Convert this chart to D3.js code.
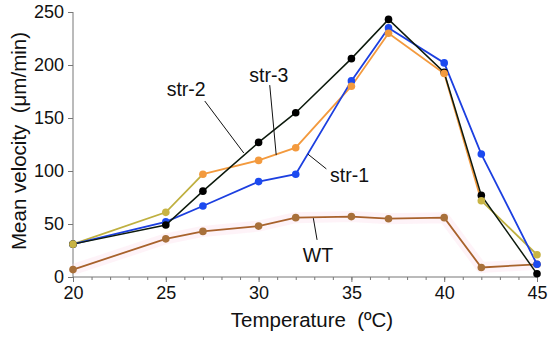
<!DOCTYPE html>
<html>
<head>
<meta charset="utf-8">
<script src="https://cdn.jsdelivr.net/npm/d3@7"></script>
<style>
  body { margin: 0; background: #fff; }
  svg { display: block; font-family: "Liberation Sans", Arial, Helvetica, sans-serif; }
</style>
</head>
<body>
<svg id="chart" width="550" height="337"></svg>
<script>
// data
const temps = [20, 25, 27, 30, 32, 35, 37, 40, 42, 45];
const str1 = [31, 52, 67, 90, 97, 185, 235, 202, 116, 12];
const str2 = [31, 49, 81, 127, 155, 206, 243, 193, 77, 3];
const str3 = [31, 61, 97, 110, 122, 180, 230, 192, 72, 21];
const wt   = [7, 36, 43, 48, 56, 57, 55, 56, 9, 12];

const xTicks = [20, 25, 30, 35, 40, 45];
const yTicks = [0, 50, 100, 150, 200, 250];

// labels: [text, textX, textY, leaderFrom, leaderTo] in data units
const labels = [
  ["str-2", 26.1, 171, [27.1, 166], [29.2, 117]],
  ["str-3", 30.55, 184, [30.6, 181], [30.95, 115]],
  ["str-1", 34.9, 90, [32.65, 116], [33.65, 102]],
  ["WT", 33.2, 14.5, [32.95, 55.5], [33.15, 35]]
];

const svg = d3.select("#chart");
const x = d3.scaleLinear().domain([20, 45]).range([73, 537]);
const y = d3.scaleLinear().domain([0, 250]).range([277, 12]);

// axes ----------------------------------------------------------
const axisCol = "#777";

const yAxis = svg.append("g")
  .attr("transform", "translate(73,0)")
  .call(d3.axisLeft(y).tickValues(yTicks).tickSize(5).tickPadding(4));
yAxis.select(".domain").attr("stroke", axisCol).attr("d", "M0," + y(250) + "V" + y(0));
yAxis.selectAll(".tick line").attr("stroke", axisCol);
yAxis.selectAll(".tick text").attr("font-size", 18).attr("fill", "#111")
  .attr("font-family", "Liberation Sans, Arial, sans-serif");

// minor ticks first
svg.append("g")
  .attr("transform", "translate(0,277)")
  .call(d3.axisBottom(x).tickValues(d3.range(20, 46, 1)).tickSize(3).tickFormat(""))
  .call(g => g.select(".domain").remove())
  .selectAll(".tick line").attr("stroke", axisCol);

const xAxis = svg.append("g")
  .attr("transform", "translate(0,277)")
  .call(d3.axisBottom(x).tickValues(xTicks).tickSize(5).tickPadding(4));
xAxis.select(".domain").attr("stroke", axisCol).attr("d", "M" + x(20) + ",0H" + x(45));
xAxis.selectAll(".tick line").attr("stroke", axisCol);
xAxis.selectAll(".tick text").attr("font-size", 18).attr("fill", "#111")
  .attr("font-family", "Liberation Sans, Arial, sans-serif");

svg.append("text")
  .attr("x", 312).attr("y", 327)
  .attr("text-anchor", "middle")
  .attr("font-size", 20.5)
  .attr("fill", "#111")
  .style("white-space", "pre")
  .text("Temperature  (ºC)");

svg.append("text")
  .attr("transform", "translate(26,141) rotate(-90)")
  .attr("text-anchor", "middle")
  .attr("font-size", 20.5)
  .attr("fill", "#111")
  .style("white-space", "pre")
  .text("Mean velocity  (μm/min)");

// lines ---------------------------------------------------------
const line = d3.line().x(d => x(d[0])).y(d => y(d[1]));
const pts = arr => temps.map((t, i) => [t, arr[i]]);

// faint pink halo behind WT
svg.append("path")
  .datum(pts(wt))
  .attr("d", line)
  .attr("fill", "none")
  .attr("stroke", "#fbdcec")
  .attr("stroke-width", 11)
  .attr("stroke-linejoin", "round")
  .attr("opacity", 0.35);

function series(arr, col, dotCol, w) {
  svg.append("path")
    .datum(pts(arr))
    .attr("d", line)
    .attr("fill", "none")
    .attr("stroke", col)
    .attr("stroke-width", w);
  svg.append("g").selectAll("circle")
    .data(pts(arr))
    .join("circle")
    .attr("cx", d => x(d[0]))
    .attr("cy", d => y(d[1]))
    .attr("r", 3.8)
    .attr("fill", dotCol);
}

series(wt, "#a8622c", "#a8703a", 1.8);

// str-3: olive at the ends, orange in the middle
const olive = "#bfb040";
const orange = "#f39a3e";
svg.append("path")
  .datum(pts(str3).slice(2, 9))
  .attr("d", line).attr("fill", "none").attr("stroke", orange).attr("stroke-width", 1.8);
svg.append("path")
  .datum(pts(str3).slice(0, 3))
  .attr("d", line).attr("fill", "none").attr("stroke", olive).attr("stroke-width", 1.8);
svg.append("path")
  .datum(pts(str3).slice(8))
  .attr("d", line).attr("fill", "none").attr("stroke", olive).attr("stroke-width", 1.8);

series(str1, "#1c3fe0", "#1c4af0", 1.8);
series(str2, "#0d1a0d", "#000", 1.5);

svg.append("g").selectAll("circle")
  .data(pts(str3))
  .join("circle")
  .attr("cx", d => x(d[0]))
  .attr("cy", d => y(d[1]))
  .attr("r", 3.8)
  .attr("fill", (d, i) => (i < 2 || i > 7) ? "#c8b444" : orange);

// labels and leaders -------------------------------------------
labels.forEach(l => {
  svg.append("line")
    .attr("x1", x(l[3][0])).attr("y1", y(l[3][1]))
    .attr("x2", x(l[4][0])).attr("y2", y(l[4][1]))
    .attr("stroke", "#111").attr("stroke-width", 1);
  svg.append("text")
    .attr("x", x(l[1])).attr("y", y(l[2]))
    .attr("text-anchor", "middle")
    .attr("font-size", 19.5)
    .attr("fill", "#111")
    .text(l[0]);
});
</script>
</body>
</html>
